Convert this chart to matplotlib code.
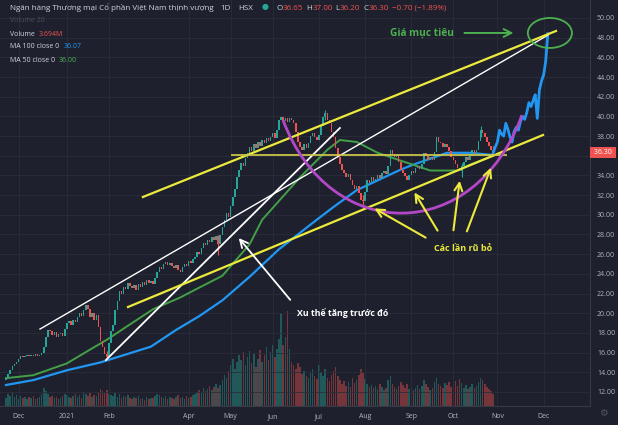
import matplotlib.pyplot as plt
import matplotlib.transforms as mtransforms
from matplotlib.patches import Ellipse, PathPatch
from matplotlib.path import Path

plt.rcParams['font.family'] = ['Open Sans', 'DejaVu Sans']

# VPB daily closes (bar 0 = late Nov 2020, last bar = late Oct 2021)
closes = [
    13.4, 13.8, 14.2, 14.6, 14.8, 15.0, 15.3, 15.6, 15.5, 15.7,
    15.8, 15.6, 15.8, 15.7, 15.9, 15.6, 15.8, 16.0, 16.6, 17.6,
    18.3, 18.2, 17.8, 18.1, 17.6, 17.9, 18.0, 17.7, 18.4, 19.0,
    19.2, 18.8, 19.3, 19.1, 19.6, 20.0, 19.7, 20.3, 20.8, 20.4,
    19.6, 20.0, 19.3, 19.8, 18.6, 17.2, 16.6, 15.9, 15.5, 17.0,
    18.2, 18.8, 20.3, 21.2, 22.3, 22.0, 22.7, 22.5, 23.1, 22.8,
    22.6, 22.9, 22.4, 23.0, 22.7, 23.2, 22.9, 23.4, 23.1, 23.3,
    23.0, 23.6, 24.2, 24.7, 24.5, 25.0, 25.2, 24.9, 25.1, 24.8,
    24.6, 24.9, 24.4, 24.2, 24.7, 25.0, 24.8, 25.3, 25.1, 25.5,
    25.7, 26.2, 26.0, 26.6, 27.1, 26.9, 27.4, 27.2, 27.7, 27.4,
    27.8, 27.0, 27.9, 28.8, 29.5, 30.2, 29.8, 30.9, 31.8, 32.6,
    33.8, 34.6, 35.3, 35.0, 35.8, 36.3, 36.9, 36.5, 37.2, 36.8,
    37.4, 37.0, 37.6, 37.3, 37.8, 37.5, 37.9, 38.3, 37.8, 38.6,
    39.6, 39.9, 39.5, 39.8, 39.4, 39.8, 39.6, 39.3, 38.4, 37.4,
    36.9, 36.6, 37.2, 36.8, 37.3, 38.0, 38.3, 37.9, 37.6, 38.1,
    39.0, 39.9, 40.3, 39.6, 39.3, 38.4, 37.9, 36.8, 35.9, 35.2,
    34.6, 34.2, 33.8, 34.1, 33.5, 33.0, 32.6, 32.9, 32.2, 31.5,
    31.4, 32.3, 33.5, 33.2, 33.8, 33.4, 33.6, 34.0, 33.7, 34.2,
    34.5, 34.1, 35.0, 36.6, 36.2, 35.9, 36.1, 35.4, 34.6, 34.2,
    33.9, 33.5, 34.0, 34.5, 34.2, 34.8, 35.0, 34.7, 35.2, 36.3,
    36.0, 35.6, 35.9, 35.6, 36.4, 37.9, 37.4, 37.3, 36.9, 37.2,
    36.9, 36.5, 35.9, 35.6, 35.2, 34.8, 34.5, 35.0, 35.4, 35.9,
    35.6, 36.0, 36.6, 36.2, 36.6, 37.5, 38.6, 38.3, 37.9, 37.4,
    37.0, 36.6, 36.3,
]
first_open = 13.2

volumes = [
    8, 12, 10, 14, 9, 11, 7, 10, 8, 9,
    7, 9, 8, 10, 7, 8, 9, 12, 18, 15,
    12, 9, 10, 8, 9, 7, 8, 10, 12, 11,
    9, 8, 10, 12, 9, 11, 8, 14, 12, 10,
    13, 9, 11, 10, 14, 17, 15, 13, 16, 12,
    11, 10, 13, 9, 12, 8, 10, 9, 11, 8,
    7, 9, 8, 10, 7, 8, 6, 9, 7, 8,
    8, 10, 12, 11, 9, 8, 10, 7, 9, 8,
    7, 9, 11, 8, 9, 7, 10, 8, 9, 11,
    12, 14, 16, 13, 18, 15, 17, 20, 16, 19,
    22, 18, 21, 26, 32, 28, 36, 42, 48, 38,
    45, 52, 47, 55, 42, 50, 56, 44, 53, 40,
    48, 57, 45, 52, 60, 47, 55, 62, 50, 58,
    68, 95, 62, 70, 97, 58, 45, 42, 38, 44,
    40, 33, 36, 30, 28, 34, 38, 30, 27, 42,
    35, 30, 38, 28, 25, 32, 36, 40, 30, 26,
    22, 25, 20, 24, 19, 28, 23, 26, 32, 38,
    35, 27, 22, 19, 21, 18, 20, 17, 22, 19,
    16, 18, 26, 30, 22, 19, 17, 20, 24, 21,
    18, 22, 17, 19, 16, 18, 21, 17, 20, 26,
    22, 19, 16, 18, 24, 28, 22, 20, 18, 23,
    21, 24, 19, 22, 25, 20, 27, 23, 18, 21,
    17, 19, 22, 18, 20, 24, 28, 26, 22, 19,
    17, 15, 12,
]

# visible wicks
wick_bars = [48, 101, 152, 170, 217, 226, 232]
wick_highs = [16.2, 27.9, 40.7, 32.0, 35.3, 39.0, 37.0]
wick_lows = [15.2, 25.9, 39.6, 31.0, 33.8, 37.9, 36.2]

# moving averages (bar, value)
ma100_bars = [0, 13, 29, 45, 69, 81, 92, 103, 116, 130, 148, 156, 167, 177, 188, 194, 210, 221, 232]
ma100_vals = [12.7, 13.2, 14.2, 15.0, 16.6, 18.3, 19.7, 21.3, 23.7, 26.5, 29.5, 30.8, 32.5, 33.5, 34.6, 35.1, 36.3, 36.3, 36.07]
ma50_bars = [0, 13, 29, 40, 48, 60, 70, 83, 92, 103, 116, 122, 140, 153, 159, 167, 177, 188, 202, 215, 221, 232]
ma50_vals = [13.4, 13.7, 14.9, 16.3, 17.3, 19.0, 20.4, 21.6, 22.6, 23.8, 27.0, 29.5, 33.8, 36.6, 37.6, 37.4, 36.3, 35.5, 34.5, 34.5, 35.1, 36.0]

# projected path (drawn in blue)
proj_bars = list(range(232, 259))
proj_vals = [36.3, 36.9, 37.4, 38.6, 38.2, 38.0, 39.3, 38.7, 37.9, 37.4,
             38.5, 38.9, 38.6, 39.5, 40.0, 39.7, 40.4, 41.4, 41.0, 41.6,
             42.2, 39.8, 42.7, 43.6, 44.2, 45.6, 48.4]

month_bars = [6, 29, 49, 87, 107, 127, 149, 171, 193, 213, 234, 256]
month_labels = ['Dec', '2021', 'Feb', 'Apr', 'May', 'Jun', 'Jul', 'Aug', 'Sep', 'Oct', 'Nov', 'Dec']
price_ticks = list(range(12, 51, 2))

BG = '#1e212d'
GRID = '#2a2e39'
TXT = '#d1d4dc'
UP = '#26a69a'
DOWN = '#ef5350'
YEL = '#ecea3c'
GRN = '#4caf50'
BLUE = '#2196f3'

fig = plt.figure(figsize=(6.18, 4.25), dpi=100, facecolor=BG)
rect = [0, 19 / 425, 590 / 618, 406 / 425]
axv = fig.add_axes(rect)
ax = fig.add_axes(rect, sharex=axv)
axv.set_facecolor(BG)
ax.patch.set_alpha(0)

opens = [first_open] + closes[:-1]
idx = list(range(len(closes)))
colors = [UP if c >= o else DOWN for o, c in zip(opens, closes)]
heights = [(c - o) if abs(c - o) > 0.06 else 0.06 for o, c in zip(opens, closes)]

# volume
axv.bar(idx, volumes, width=0.75, color=colors, alpha=0.42)
axv.set_ylim(0, max(volumes) / 0.235)
axv.axis('off')

# candles
ax.bar(idx, heights, bottom=opens, width=0.75, color=colors, zorder=3)
ax.vlines(wick_bars, wick_lows, wick_highs, colors=[colors[i] for i in wick_bars], lw=0.8, zorder=3)

ax.plot(ma100_bars, ma100_vals, color=BLUE, lw=1.6, zorder=2)
ax.plot(ma50_bars, ma50_vals, color='#43a047', lw=1.4, zorder=2)
ax.plot(proj_bars, proj_vals, color=BLUE, lw=2.0, zorder=3)

# trend lines
ax.plot([16.2, 258.1], [18.39, 48.27], color='white', lw=1.0, zorder=4)
ax.plot([47.6, 159.0], [15.24, 38.82], color='white', lw=1.3, zorder=4)
ax.plot([65.2, 261.9], [31.81, 48.68], color=YEL, lw=1.6, zorder=4)
ax.plot([58.1, 255.7], [20.63, 38.11], color=YEL, lw=1.6, zorder=4)
ax.plot([107.6, 238.1], [36.1, 36.1], color='#cfc84a', lw=1.4, alpha=0.9, zorder=4)

arc = Path([(131.9, 39.63), (154.3, 26.93), (223.3, 26.93), (245.7, 40.14)],
           [Path.MOVETO, Path.CURVE4, Path.CURVE4, Path.CURVE4])
ax.add_patch(PathPatch(arc, fill=False, ec='#b447c8', lw=2.0, zorder=4))

ax.annotate('', xy=(110.0, 27.85), xytext=(136.2, 21.14),
            arrowprops=dict(arrowstyle='->', color='white', lw=1.3, mutation_scale=14), zorder=5)
ax.text(138.5, 20.0, 'Xu thế tăng trước đó', color='white', fontsize=6.3,
        weight='bold', ha='left', va='center', zorder=5)

for tail, head in [((201.0, 27.54), (174.3, 30.79)), ((206.2, 28.15), (193.8, 32.52)),
                   ((212.9, 28.15), (216.2, 33.74)), ((219.0, 28.05), (231.4, 35.06))]:
    ax.annotate('', xy=head, xytext=tail,
                arrowprops=dict(arrowstyle='->', color=YEL, lw=1.5, mutation_scale=14), zorder=5)
ax.text(217.6, 26.6, 'Các lần rũ bỏ', color=YEL, fontsize=6.5, weight='bold',
        ha='center', va='center', zorder=5)

ax.add_patch(Ellipse((259.0, 48.48), 21, 3.05, fill=False, ec=GRN, lw=1.3, zorder=5))
ax.annotate('', xy=(243.0, 48.48), xytext=(217.0, 48.48),
            arrowprops=dict(arrowstyle='->', color=GRN, lw=1.4, mutation_scale=14), zorder=5)
ax.text(182.9, 48.48, 'Giá mục tiêu', color=GRN, fontsize=7.3, weight='bold',
        ha='left', va='center', zorder=5)

# axes styling
last_close = closes[-1]
ax.set_xlim(-6 / 2.1, 584 / 2.1)
ax.set_ylim(50 - 388 / 9.84, 50 + 18 / 9.84)
ax.yaxis.tick_right()
ax.set_yticks(price_ticks)
# the last-price tag covers the nearest price label
ax.set_yticklabels(['' if abs(v - last_close) < 1 else f'{v:.2f}' for v in price_ticks])
ax.set_xticks(month_bars)
ax.set_xticklabels(month_labels)
ax.tick_params(axis='y', length=0, pad=5, labelsize=5, labelcolor='#b2b5be')
ax.tick_params(axis='x', length=0, pad=5, labelsize=5, labelcolor='#b2b5be')
ax.grid(True, color=GRID, lw=0.6, zorder=0)
ax.set_axisbelow(True)
for name, sp in ax.spines.items():
    sp.set_visible(name in ('right', 'bottom'))
    sp.set_color('#363a45')
    sp.set_linewidth(0.8)

trans = mtransforms.blended_transform_factory(ax.transAxes, ax.transData)
ax.text(1.004, last_close, f' {last_close:.2f} ', transform=trans, ha='left', va='center',
        fontsize=5, color='white', clip_on=False, zorder=6,
        bbox=dict(boxstyle='square,pad=0.3', fc=DOWN, ec='none'))

# header and legend
renderer = fig.canvas.get_renderer()


def chain(x, y, parts, size, weight='normal'):
    for s, col, gap in parts:
        t = fig.text(x / 618, 1 - y / 425, s, color=col, fontsize=size,
                     ha='left', va='center', weight=weight)
        x += t.get_window_extent(renderer).width + gap


chain(10, 8, [('Ngân hàng Thương mại Cổ phần Việt Nam thịnh vượng', TXT, 7),
              ('1D', TXT, 7), ('HSX', TXT, 9), ('●', UP, 8),
              ('O', TXT, 0), ('36.65', DOWN, 3), ('H', TXT, 0), ('37.00', DOWN, 3),
              ('L', TXT, 0), ('36.20', DOWN, 3), ('C', TXT, 0), ('36.30', DOWN, 3),
              ('−0.70 (−1.89%)', DOWN, 0)], 5.8)
chain(10, 21, [('Volume 20', '#4a4e5a', 0)], 5.0)
chain(10, 34, [('Volume', TXT, 4), ('3.694M', DOWN, 0)], 5.0)
chain(10, 47, [('MA 100 close 0', TXT, 4), ('36.07', BLUE, 0)], 5.0)
chain(10, 60, [('MA 50 close 0', TXT, 4), ('36.00', GRN, 0)], 5.0)

fig.text(603 / 618, 1 - 413 / 425, '⚙', color='#50535e', fontsize=7, ha='center', va='center')

fig.savefig('out.png', dpi=100, facecolor=BG)
